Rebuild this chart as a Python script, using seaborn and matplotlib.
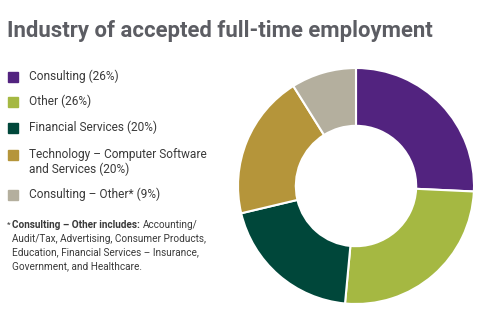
import matplotlib
matplotlib.use("Agg")
import matplotlib.pyplot as plt
import seaborn as sns

categories = ["Consulting", "Other", "Financial Services",
              "Technology \u2013 Computer Software\nand Services", "Consulting \u2013 Other*"]
shares = [26, 26, 20, 20, 9]
colors = ["#52237f", "#a5b842", "#00473a", "#b5953a", "#b4af9e"]

sns.set_theme(style="white")
plt.rcParams["font.family"] = ["Roboto", "DejaVu Sans"]

W, H = 483, 325
fig = plt.figure(figsize=(W / 100, H / 100), dpi=100)
fig.patch.set_facecolor("white")

# donut
cx, cy, r = 356, 186, 118
ax = fig.add_axes([(cx - r) / W, 1 - (cy + r) / H, 2 * r / W, 2 * r / H])
ax.pie(shares, colors=sns.color_palette(colors), startangle=90, counterclock=False,
       wedgeprops=dict(width=0.49, edgecolor="white", linewidth=1.5))
ax.set_aspect("equal")
ax.set_xlim(-1, 1)
ax.set_ylim(-1, 1)
ax.axis("off")

fig.text(7 / W, 1 - 31 / H, "Industry of accepted full-time employment",
         fontsize=15.9, fontweight="bold", color="#5c5d63", va="center", ha="left")

text_col = "#3a3a3a"
rows = [77, 102, 128, 155, 195]
for y, cat, v, c in zip(rows, categories, shares, colors):
    fig.patches.append(plt.Rectangle((8 / W, 1 - (y + 5) / H), 10 / W, 10 / H,
                                     transform=fig.transFigure, color=c))
    label = f"{cat} ({v}%)"
    fig.text(29 / W, 1 - (y - 7) / H, label, fontsize=8.6, color=text_col,
             va="top", ha="left", linespacing=1.15)

foot_y = [225, 239, 252, 266]
fs = 7.2
fig.text(7 / W, 1 - foot_y[0] / H, "*", fontsize=6, color=text_col, va="center")
bold = fig.text(12 / W, 1 - foot_y[0] / H, "Consulting \u2013 Other includes:", fontsize=fs,
                fontweight="bold", color=text_col, va="center")
renderer = fig.canvas.get_renderer()
bb = bold.get_window_extent(renderer=renderer)
fig.text((bb.x1 + 3) / W, 1 - foot_y[0] / H, "Accounting/", fontsize=fs,
         color=text_col, va="center")
foot_lines = ["Audit/Tax, Advertising, Consumer Products,",
              "Education, Financial Services \u2013 Insurance,",
              "Government, and Healthcare."]
for y, t in zip(foot_y[1:], foot_lines):
    fig.text(12 / W, 1 - y / H, t, fontsize=fs, color=text_col, va="center")

fig.savefig("out.png", dpi=100, facecolor="white")
